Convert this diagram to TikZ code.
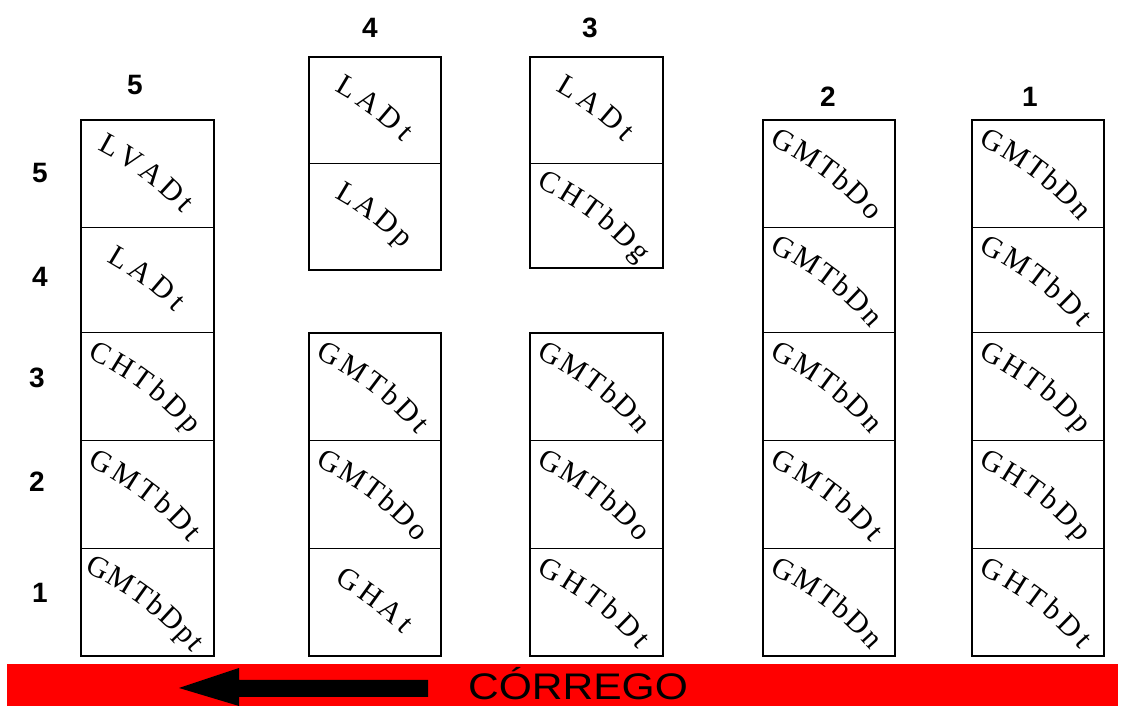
\documentclass[tikz,border=0pt]{standalone}
\usepackage{fontspec}
\setmainfont{Liberation Serif}
\newfontfamily\labelsans{Liberation Sans}
\usetikzlibrary{calc,decorations.text}
\newcommand\cellfont{\rmfamily\fontsize{30}{30}\selectfont}
\tikzset{
  cellbox/.style={draw=black, line width=1pt, inner sep=0pt, outer sep=0pt},
  outerline/.style={draw=black, line width=2.3pt},
  headnum/.style={font=\labelsans\bfseries\fontsize{28}{28}\selectfont, inner sep=0pt},
  rivertext/.style={font=\labelsans\fontsize{37}{37}\selectfont, inner sep=0pt, xscale=1.15},
  riverbar/.style={fill=red, draw=none, inner sep=0pt, outer sep=0pt},
  flowarrow/.style={fill=black, draw=none}
}
% #1 name, #2 x left, #3 x right, #4 y top (screen), #5 y bottom (screen), #6 text, #7 letters
\newcommand\mkcell[7]{%
  \pgfmathsetmacro\clW{#3-#2}%
  \pgfmathsetmacro\clH{#5-#4}%
  \pgfmathsetmacro\clY{706-#4}%
  \node[cellbox, minimum width=\clW pt, minimum height=\clH pt, anchor=north west] (#1) at (#2,\clY) {};
  \pgfmathsetmacro\clHd{min(11*#7,70)/320*57.29578}%
  \pgfmathsetmacro\clSx{320*(cos(53+\clHd)-cos(53))+1}%
  \pgfmathsetmacro\clSy{320*(sin(53+\clHd)-sin(53))+4}%
  \pgfmathsetmacro\clSa{53+\clHd}%
  \pgfmathsetmacro\clEa{53-\clHd}%
  \path[decorate, decoration={text along path, text={|\cellfont|#6}, text align={fit to path}, raise=-10pt}]
    ($(#1.center)+(\clSx pt,\clSy pt)$) arc[start angle=\clSa, end angle=\clEa, radius=320pt];
}
\begin{document}
\begin{tikzpicture}[x=1pt,y=1pt]
\useasboundingbox (0,0) rectangle (1121,706);
% column 5
\mkcell{a5}{81}{214}{120}{228}{LVADt}{5}
\mkcell{a4}{81}{214}{228}{333}{LADt}{4}
\mkcell{a3}{81}{214}{333}{441}{CHTbDp}{6}
\mkcell{a2}{81}{214}{441}{549}{GMTbDt}{6}
\mkcell{a1}{81}{214}{549}{656}{GMTbDpt}{7}
\draw[outerline] (a5.north west) rectangle (a1.south east);
% column 4
\mkcell{b7}{309}{441}{57}{164}{LADt}{4}
\mkcell{b6}{309}{441}{164}{270}{LADp}{4}
\draw[outerline] (b7.north west) rectangle (b6.south east);
\mkcell{b3}{309}{441}{333}{441}{GMTbDt}{6}
\mkcell{b2}{309}{441}{441}{549}{GMTbDo}{6}
\mkcell{b1}{309}{441}{549}{656}{GHAt}{4}
\draw[outerline] (b3.north west) rectangle (b1.south east);
% column 3
\mkcell{c7}{530}{663}{57}{164}{LADt}{4}
\mkcell{c6}{530}{663}{164}{268}{CHTbDg}{6}
\draw[outerline] (c7.north west) rectangle (c6.south east);
\mkcell{c3}{530}{663}{333}{441}{GMTbDn}{6}
\mkcell{c2}{530}{663}{441}{549}{GMTbDo}{6}
\mkcell{c1}{530}{663}{549}{656}{GHTbDt}{6}
\draw[outerline] (c3.north west) rectangle (c1.south east);
% column 2
\mkcell{d5}{763}{895}{120}{228}{GMTbDo}{6}
\mkcell{d4}{763}{895}{228}{333}{GMTbDn}{6}
\mkcell{d3}{763}{895}{333}{441}{GMTbDn}{6}
\mkcell{d2}{763}{895}{441}{549}{GMTbDt}{6}
\mkcell{d1}{763}{895}{549}{656}{GMTbDn}{6}
\draw[outerline] (d5.north west) rectangle (d1.south east);
% column 1
\mkcell{e5}{972}{1104}{120}{228}{GMTbDn}{6}
\mkcell{e4}{972}{1104}{228}{333}{GMTbDt}{6}
\mkcell{e3}{972}{1104}{333}{441}{GHTbDp}{6}
\mkcell{e2}{972}{1104}{441}{549}{GHTbDp}{6}
\mkcell{e1}{972}{1104}{549}{656}{GHTbDt}{6}
\draw[outerline] (e5.north west) rectangle (e1.south east);
% column numbers
\node[headnum] (h5) at (135,621) {5};
\node[headnum] (h4) at (370,678) {4};
\node[headnum] (h3) at (590,678) {3};
\node[headnum] (h2) at (828,609) {2};
\node[headnum] (h1) at (1030,609) {1};
% row numbers
\node[headnum] (r5) at (40,533) {5};
\node[headnum] (r4) at (40,429) {4};
\node[headnum] (r3) at (37,328) {3};
\node[headnum] (r2) at (37,224) {2};
\node[headnum] (r1) at (40,113) {1};
% stream
\node[riverbar, minimum width=1111pt, minimum height=42pt, anchor=south west] (river) at (7,0) {};
\fill[flowarrow] (179,18) -- (239,38) -- (239,26) -- (428,26) -- (428,9) -- (239,9) -- (239,0) -- cycle;
\node[rivertext, anchor=base] (rlabel) at (578,6) {CÓRREGO};
\end{tikzpicture}
\end{document}
